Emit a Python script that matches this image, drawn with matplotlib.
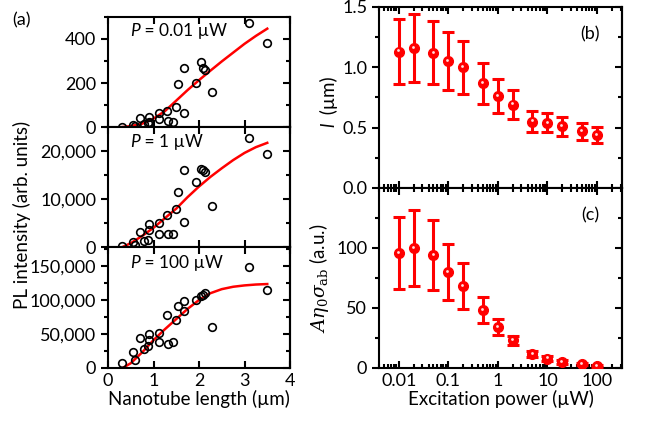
import numpy as np
import matplotlib
matplotlib.use("Agg")
import matplotlib.pyplot as plt
import matplotlib.transforms as mtransforms
from matplotlib.ticker import AutoMinorLocator, FixedLocator, StrMethodFormatter, NullFormatter

plt.rcParams['font.family'] = ['Lato', 'DejaVu Sans']
plt.rcParams['mathtext.fontset'] = 'custom'
plt.rcParams['mathtext.it'] = 'DejaVu Serif:italic'
plt.rcParams['mathtext.rm'] = 'DejaVu Serif'

# (a) nanotube lengths (um) and PL intensities at three powers
length = [0.30, 0.55, 0.60, 0.70, 0.79, 0.88, 0.90, 0.91, 1.11, 1.13, 1.29, 1.31,
          1.42, 1.49, 1.53, 1.66, 1.67, 1.93, 2.05, 2.08, 2.13, 2.29, 3.09, 3.50]
pl_001 = [2, 10, 3, 40, 12, 17, 47, 25, 35, 62, 74, 29,
          24, 92, 194, 62, 266, 198, 297, 270, 257, 161, 472, 384]
pl_1 = [300, 980, 500, 3080, 1330, 1500, 4760, 3570, 2660, 5100, 6580, 2730,
        2660, 7980, 11480, 5180, 15960, 13440, 16200, 16000, 15700, 8470, 22800, 19460]
pl_100 = [7300, 23400, 12200, 43900, 28300, 31700, 49800, 41500, 37600, 51200, 78000, 35600,
          37600, 70200, 91700, 84400, 98500, 99500, 106000, 107500, 109800, 60000, 148800, 115100]

# fitted curves
fit_x = [0.32, 0.5, 0.75, 1.0, 1.25, 1.5, 1.75, 2.0, 2.25, 2.5, 2.75, 3.0, 3.25, 3.5]
fit_001 = [0, 4, 15, 38, 72, 120, 168, 213, 256, 298, 338, 378, 414, 447]
fit_1 = [0, 800, 2300, 4000, 6000, 8000, 10400, 12600, 14600, 16400, 18100, 19600, 20800, 21700]
fit_100 = [0, 7000, 23000, 41000, 57000, 72000, 87000, 100000, 110000, 116000, 119500, 121500, 122800, 123500]

# (b), (c) vs excitation power
power = [0.01, 0.02, 0.05, 0.1, 0.2, 0.5, 1, 2, 5, 10, 20, 50, 100]
l_val = [1.13, 1.16, 1.12, 1.05, 1.00, 0.87, 0.76, 0.69, 0.55, 0.54, 0.51, 0.47, 0.44]
l_err = [0.27, 0.28, 0.26, 0.24, 0.22, 0.17, 0.14, 0.12, 0.085, 0.08, 0.075, 0.07, 0.065]
a_val = [96, 100, 94, 80, 68.5, 48.5, 34, 23, 11.7, 7.8, 5.0, 3.1, 1.4]
a_err = [30, 32, 29, 23, 19, 11, 6.5, 4, 2.5, 2, 1.5, 1.0, 0.7]

log_minor = [k * 10.0 ** e for e in range(-3, 3) for k in range(2, 10)]

fig = plt.figure(figsize=(6.47, 4.22), dpi=100)
W, H = 647, 422


def box(x0, y0, x1, y1):
    return [x0 / W, 1 - y1 / H, (x1 - x0) / W, (y1 - y0) / H]


def style(ax):
    for s in ax.spines.values():
        s.set_linewidth(1.5)
    ax.tick_params(axis='x', which='both', direction='in', top=True, bottom=True, width=1.5)
    ax.tick_params(axis='x', which='major', length=5)
    ax.tick_params(axis='x', which='minor', length=3)
    ax.tick_params(axis='y', which='both', direction='out', left=True, right=False, width=1.5)
    ax.tick_params(axis='y', which='major', length=5)
    ax.tick_params(axis='y', which='minor', length=3)
    ax.tick_params(labelsize=13)
    sec = ax.secondary_yaxis('right')
    sec.set_yticks(ax.get_yticks())
    sec.yaxis.set_minor_locator(ax.yaxis.get_minor_locator())
    sec.tick_params(which='both', direction='in', labelright=False, width=1.5)
    sec.tick_params(which='major', length=5)
    sec.tick_params(which='minor', length=3)
    sec.spines['right'].set_linewidth(1.5)


left_rows = [(17, 127, pl_001, fit_001, 500, [0, 200, 400], '0.01'),
             (127, 247, pl_1, fit_1, 25000, [0, 10000, 20000], '1'),
             (247, 368, pl_100, fit_100, 178000, [0, 50000, 100000, 150000], '100')]

axes_left = []
for (y0, y1, ys, fy, ymax, yt, pw) in left_rows:
    ax = fig.add_axes(box(108, y0, 290, y1))
    ax.plot(fit_x, fy, color='red', lw=1.8, zorder=2)
    ax.plot(length, ys, 'o', mfc='none', mec='black', mew=1.2, ms=5.5, zorder=3)
    ax.set_xlim(0, 4)
    ax.set_ylim(0, ymax)
    ax.set_xticks([0, 1, 2, 3, 4])
    ax.set_yticks(yt)
    ax.yaxis.set_minor_locator(AutoMinorLocator(2))
    ax.yaxis.set_major_formatter(StrMethodFormatter('{x:,.0f}'))
    t = ax.text(0.12, 0.83, 'P', style='italic', transform=ax.transAxes,
                fontsize=12.5, va='baseline', ha='left')
    ax.annotate(' = ' + pw + ' µW', xy=(1, 0), xycoords=t, fontsize=12.5,
                va='bottom', ha='left')
    style(ax)
    axes_left.append(ax)

for ax in axes_left[:2]:
    ax.tick_params(axis='x', labelbottom=False)
axes_left[2].set_xlabel('Nanotube length (µm)', fontsize=13.5, labelpad=1)
fig.text(22 / W, 1 - 215 / H, 'PL intensity (arb. units)', rotation=90,
         fontsize=13.5, ha='center', va='center')
fig.text(12 / W, 1 - 20 / H, '(a)', fontsize=13, ha='left', va='center')


def ball_plot(ax, y, e):
    ax.errorbar(power, y, yerr=e, fmt='o', color='red', ms=7, ecolor='red',
                elinewidth=2.2, capsize=4, capthick=2.2, zorder=3)
    shift = mtransforms.ScaledTranslation(-0.6 / 72, 0.9 / 72, fig.dpi_scale_trans)
    ax.plot(power, y, 'o', color='#ffe0e0', ms=2.0, zorder=4, markeredgewidth=0,
            transform=ax.transData + shift)


ax_b = fig.add_axes(box(379, 7, 622, 188))
ball_plot(ax_b, l_val, l_err)
ax_b.set_ylim(0, 1.5)
ax_b.set_yticks([0.0, 0.5, 1.0, 1.5])
ax_b.yaxis.set_minor_locator(AutoMinorLocator(2))
ax_b.yaxis.set_major_formatter(StrMethodFormatter('{x:.1f}'))
ax_c = fig.add_axes(box(379, 188, 622, 368))
ball_plot(ax_c, a_val, a_err)
ax_c.set_ylim(0, 150)
ax_c.set_yticks([0, 50, 100])
ax_c.yaxis.set_minor_locator(FixedLocator([25, 75, 125]))

for ax in (ax_b, ax_c):
    ax.set_xscale('log')
    ax.set_xticks([0.01, 0.1, 1, 10, 100])
    ax.set_xticklabels(['0.01', '0.1', '1', '10', '100'])
    ax.xaxis.set_minor_locator(FixedLocator(log_minor))
    ax.xaxis.set_minor_formatter(NullFormatter())
    ax.set_xlim(0.004, 320)
    style(ax)

ax_b.tick_params(axis='x', which='both', labelbottom=False)
ax_c.set_xlabel('Excitation power (µW)', fontsize=13.5, labelpad=1)

# y label of (b): italic l followed by (µm)
fig.text(329 / W, 1 - 127 / H, 'l', style='italic', rotation=90, fontsize=13.5,
         ha='center', va='bottom')
fig.text(329 / W, 1 - 127 / H, ' (µm)', rotation=90, fontsize=13.5, ha='center',
         va='bottom', transform=mtransforms.offset_copy(fig.transFigure, fig=fig, y=6, units='points'))
ax_c.set_ylabel(r'$A\eta_0\sigma_{\rm ab}$ (a.u.)', fontsize=13.5, labelpad=4)
ax_b.text(0.87, 0.85, '(b)', transform=ax_b.transAxes, fontsize=13, ha='center', va='center')
ax_c.text(0.87, 0.85, '(c)', transform=ax_c.transAxes, fontsize=13, ha='center', va='center')

fig.savefig('out.png', dpi=100)
